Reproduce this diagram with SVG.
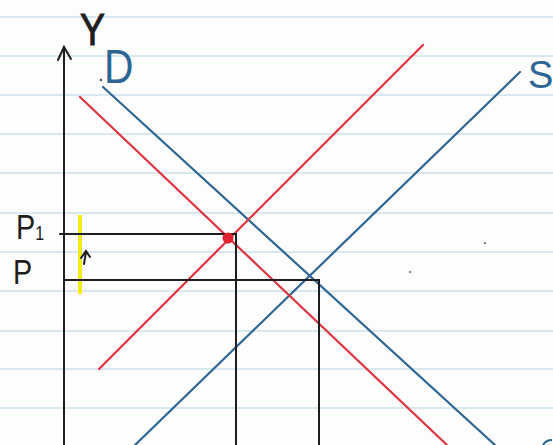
<svg xmlns="http://www.w3.org/2000/svg" width="553" height="445" viewBox="0 0 553 445">
<style>
.paper{stroke:#d9e7ef;stroke-width:2}
.ax{stroke:#1e1e1e;stroke-width:2;fill:none;stroke-linecap:round}
.red{stroke:#dc3440;stroke-width:2.2;fill:none;stroke-linecap:round}
.blue{stroke:#2d6594;stroke-width:2.2;fill:none;stroke-linecap:round}
.lbl{font-family:"Liberation Sans",Arial,sans-serif;fill:#1e1e1e}
.blbl{font-family:"Liberation Sans",Arial,sans-serif;fill:#2d6594}
</style>
<rect width="553" height="445" fill="#fdfdfd"/>
<g id="paper">
<line class="paper" x1="0" y1="17" x2="553" y2="17"/>
<line class="paper" x1="0" y1="56" x2="553" y2="56"/>
<line class="paper" x1="0" y1="95" x2="553" y2="95"/>
<line class="paper" x1="0" y1="134" x2="553" y2="134"/>
<line class="paper" x1="0" y1="173" x2="553" y2="173"/>
<line class="paper" x1="0" y1="213" x2="553" y2="213"/>
<line class="paper" x1="0" y1="252" x2="553" y2="252"/>
<line class="paper" x1="0" y1="291" x2="553" y2="291"/>
<line class="paper" x1="0" y1="331" x2="553" y2="331"/>
<line class="paper" x1="0" y1="369" x2="553" y2="369"/>
<line class="paper" x1="0" y1="408" x2="553" y2="408"/>
</g>
<g id="yaxis">
<line class="ax" x1="64" y1="47" x2="64" y2="445"/>
<polyline class="ax" points="58,60 64,47 71,59"/>
<text class="lbl" x="80" y="45" font-size="44" stroke="#1e1e1e" stroke-width="1" transform="translate(80 45) scale(0.85 1) translate(-80 -45)">Y</text>
</g>
<g id="highlight">
<line x1="80" y1="215" x2="80" y2="294" stroke="#f2ea1c" stroke-width="4"/>
<path class="ax" d="M84,264 L86,252 M81,258 L86,251 L90,257" stroke-width="1.8"/>
</g>
<g id="labels">
<text class="lbl" x="16" y="239" font-size="36" transform="translate(16 239) scale(0.8 1) translate(-16 -239)">P<tspan font-size="20" dy="1">1</tspan></text>
<text class="lbl" x="13" y="284" font-size="36" transform="translate(13 284) scale(0.8 1) translate(-13 -284)">P</text>
<text class="blbl" x="104" y="83" font-size="48" transform="translate(104 83) scale(0.85 1) translate(-104 -83)">D</text>
<text class="blbl" x="528" y="88" font-size="38">S</text>
</g>
<g id="connectors">
<line class="blue" x1="103" y1="87" x2="495" y2="445"/>
<line class="blue" x1="135" y1="445" x2="520" y2="72"/>
<line class="red" x1="80" y1="97" x2="447" y2="445"/>
<line class="red" x1="99" y1="369" x2="423" y2="45"/>
<polyline class="ax" points="60,234 236,234 236,445"/>
<polyline class="ax" points="64,280 319,280 319,445"/>
</g>
<g id="point">
<circle cx="228" cy="238" r="5.5" fill="#e0222f"/>
</g>
<g id="marks">
<circle cx="101" cy="80" r="1.3" fill="#555"/>
<circle cx="485" cy="243" r="1.2" fill="#888"/>
<circle cx="410" cy="272" r="1.2" fill="#888"/>
<path d="M543,445 Q546,440 552,440" stroke="#2d6594" stroke-width="2" fill="none"/>
</g>
</svg>
